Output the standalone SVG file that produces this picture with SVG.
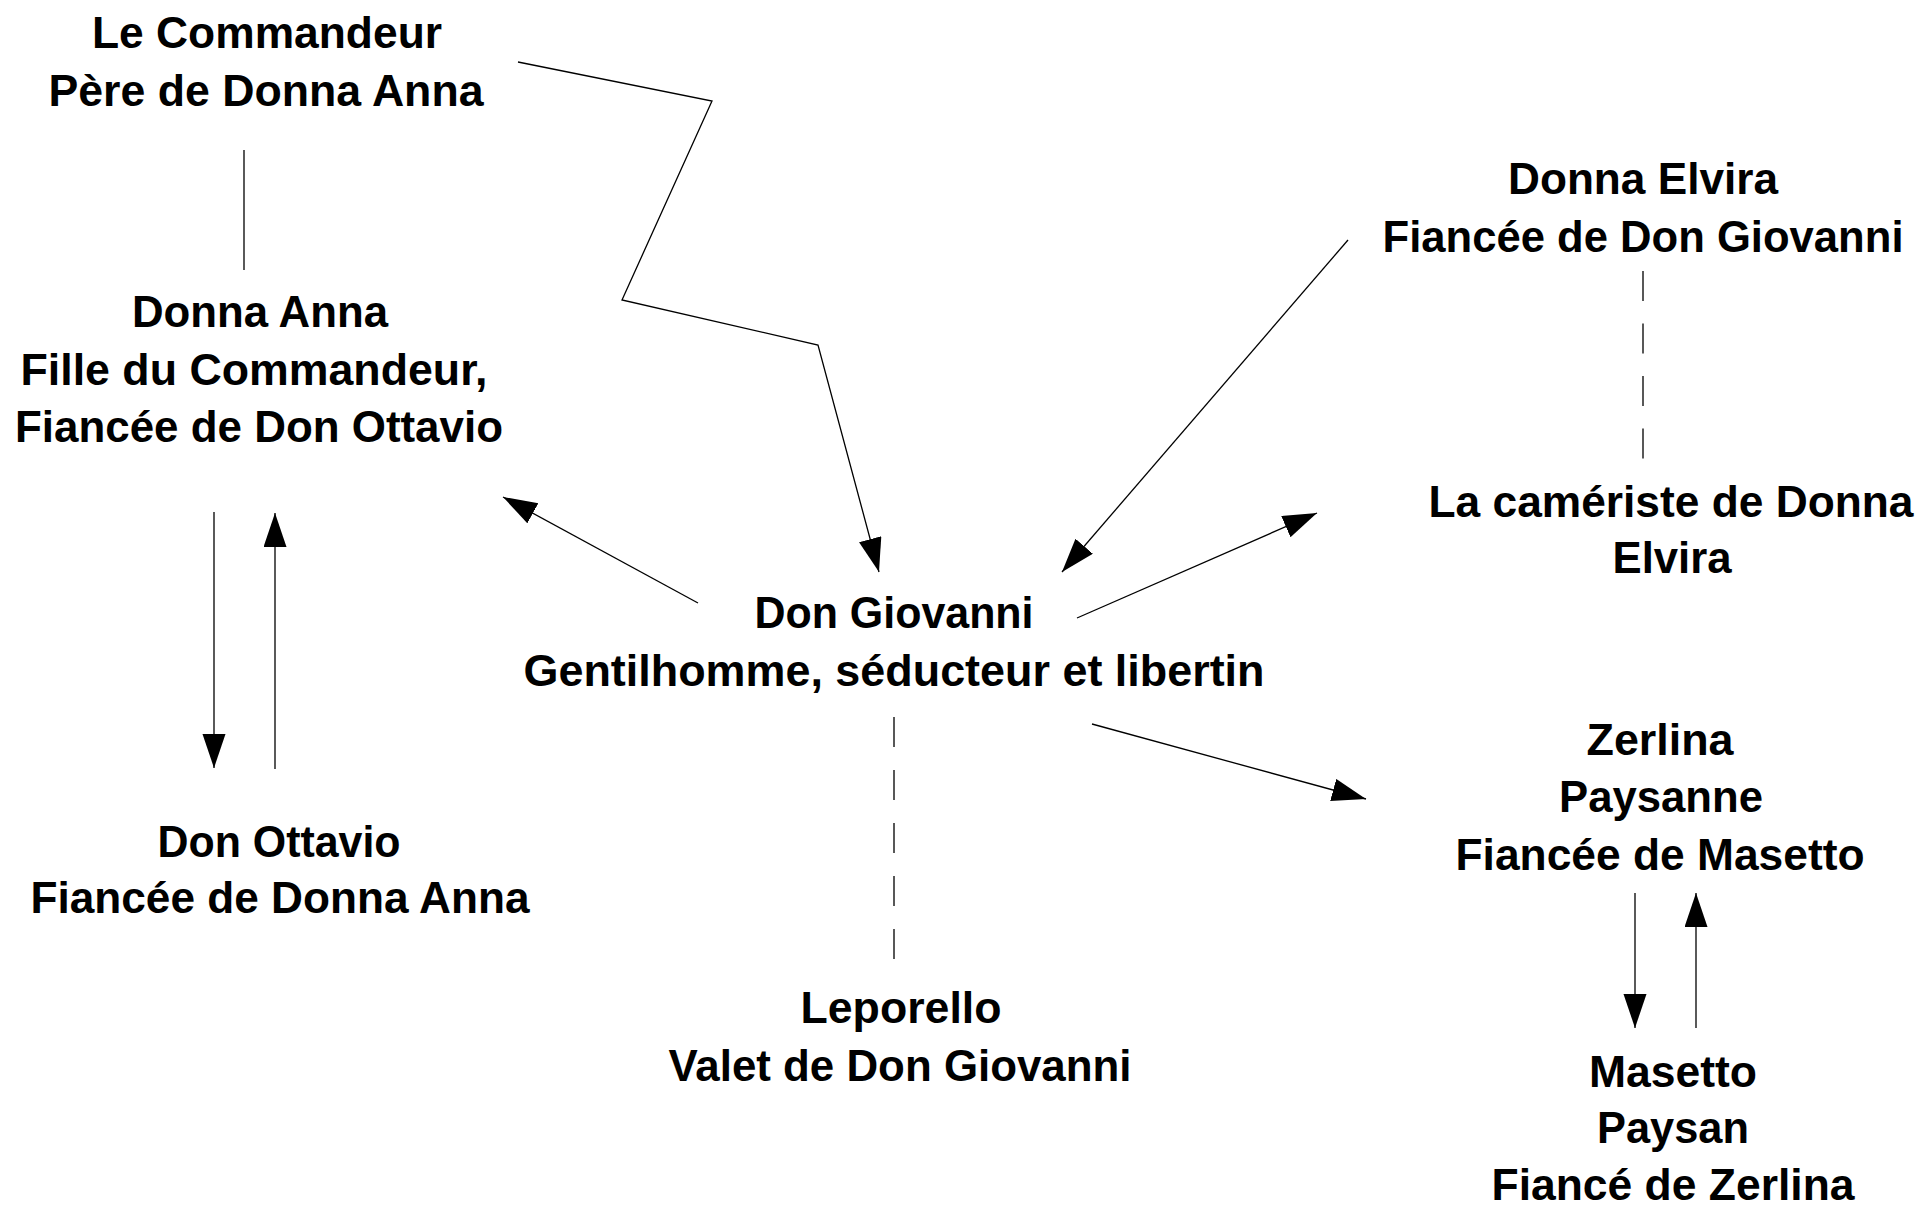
<svg xmlns="http://www.w3.org/2000/svg" width="1926" height="1206" viewBox="0 0 1926 1206">
<style>
  text { font-family: "Liberation Sans", Arial, sans-serif; font-size: 45px; font-weight: bold; fill: #000; text-anchor: middle; }
  .ln { fill: none; stroke: #000; stroke-width: 1.3; }
  .arr { marker-end: url(#ah); }
  .dash { fill: none; stroke: #222; stroke-width: 1.5; }
</style>
<defs>
  <marker id="ah" markerUnits="userSpaceOnUse" markerWidth="36" markerHeight="24" refX="34" refY="11.5" orient="auto">
    <path d="M0,0 L34,11.5 L0,23 z" fill="#000"/>
  </marker>
</defs>
<rect width="1926" height="1206" fill="#fff"/>
<g id="connectors">
  <line class="ln" x1="244" y1="150" x2="244" y2="270"/>
  <polyline class="ln arr" points="518,62 712,101 622,300 818,345 879,572"/>
  <line class="ln arr" x1="1348" y1="240" x2="1062" y2="572"/>
  <line class="ln arr" x1="1077" y1="618" x2="1317" y2="513"/>
  <line class="ln arr" x1="698" y1="603" x2="503" y2="497"/>
  <line class="ln arr" x1="214" y1="512" x2="214" y2="768"/>
  <line class="ln arr" x1="275" y1="769" x2="275" y2="513"/>
  <line class="ln arr" x1="1092" y1="724" x2="1366" y2="799"/>
  <line class="ln arr" x1="1635" y1="893" x2="1635" y2="1028"/>
  <line class="ln arr" x1="1696" y1="1028" x2="1696" y2="893"/>
  <line class="dash" x1="1643" y1="271" x2="1643" y2="459" stroke-dasharray="30 22.5"/>
  <line class="dash" x1="894" y1="717" x2="894" y2="959" stroke-dasharray="30 23"/>
</g>
<g id="commandeur">
  <text x="267" y="48" textLength="350" lengthAdjust="spacingAndGlyphs">Le Commandeur</text>
  <text x="266" y="106" textLength="435" lengthAdjust="spacingAndGlyphs">Père de Donna Anna</text>
</g>
<g id="donna-anna">
  <text x="260" y="327" textLength="256" lengthAdjust="spacingAndGlyphs">Donna Anna</text>
  <text x="254" y="385" textLength="467" lengthAdjust="spacingAndGlyphs">Fille du Commandeur,</text>
  <text x="259" y="442" textLength="488" lengthAdjust="spacingAndGlyphs">Fiancée de Don Ottavio</text>
</g>
<g id="don-ottavio">
  <text x="279" y="857" textLength="243" lengthAdjust="spacingAndGlyphs">Don Ottavio</text>
  <text x="280" y="913" textLength="499" lengthAdjust="spacingAndGlyphs">Fiancée de Donna Anna</text>
</g>
<g id="don-giovanni">
  <text x="894" y="628" textLength="279" lengthAdjust="spacingAndGlyphs">Don Giovanni</text>
  <text x="894" y="686" textLength="741" lengthAdjust="spacingAndGlyphs">Gentilhomme, séducteur et libertin</text>
</g>
<g id="leporello">
  <text x="901" y="1023" textLength="201" lengthAdjust="spacingAndGlyphs">Leporello</text>
  <text x="900" y="1081" textLength="463" lengthAdjust="spacingAndGlyphs">Valet de Don Giovanni</text>
</g>
<g id="donna-elvira">
  <text x="1643" y="194" textLength="270" lengthAdjust="spacingAndGlyphs">Donna Elvira</text>
  <text x="1643" y="252" textLength="521" lengthAdjust="spacingAndGlyphs">Fiancée de Don Giovanni</text>
</g>
<g id="cameriste">
  <text x="1671" y="517" textLength="485" lengthAdjust="spacingAndGlyphs">La camériste de Donna</text>
  <text x="1672" y="573" textLength="119" lengthAdjust="spacingAndGlyphs">Elvira</text>
</g>
<g id="zerlina">
  <text x="1660" y="755" textLength="147" lengthAdjust="spacingAndGlyphs">Zerlina</text>
  <text x="1661" y="812" textLength="204" lengthAdjust="spacingAndGlyphs">Paysanne</text>
  <text x="1660" y="870" textLength="409" lengthAdjust="spacingAndGlyphs">Fiancée de Masetto</text>
</g>
<g id="masetto">
  <text x="1673" y="1087" textLength="168" lengthAdjust="spacingAndGlyphs">Masetto</text>
  <text x="1673" y="1143" textLength="152" lengthAdjust="spacingAndGlyphs">Paysan</text>
  <text x="1673" y="1200" textLength="363" lengthAdjust="spacingAndGlyphs">Fiancé de Zerlina</text>
</g>
</svg>
